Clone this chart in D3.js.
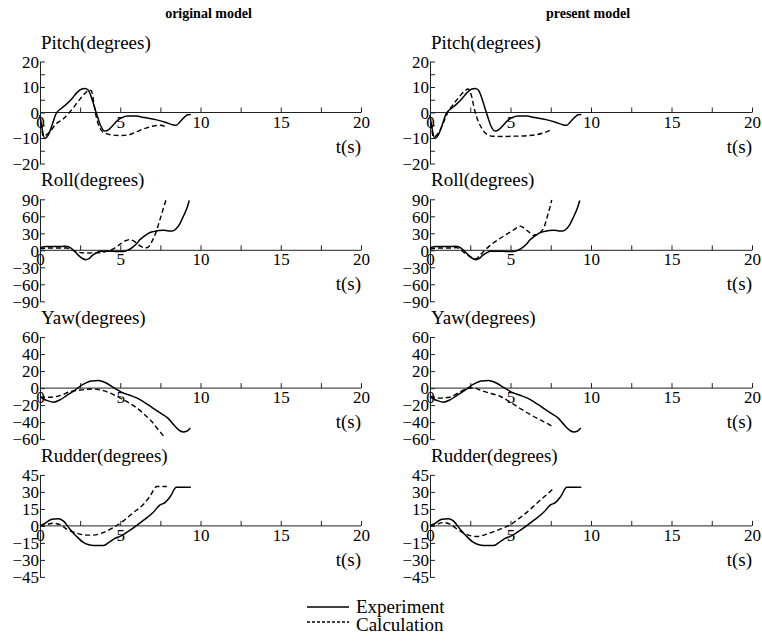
<!DOCTYPE html>
<html>
<head>
<meta charset="utf-8">
<script src="https://cdn.jsdelivr.net/npm/d3@7"></script>
<style>
  body { margin: 0; background: #fff; }
  svg { display: block; font-family: "Liberation Serif", "Times New Roman", serif; }
</style>
</head>
<body>
<svg class="chart" width="762" height="643"></svg>
<script>
// column titles and panel names
const columns = ["original model", "present model"];
const quantities = ["Pitch", "Roll", "Yaw", "Rudder"];
const yMax = [20, 90, 60, 45];
const yTickStep = [5, 30, 20, 15];
const yLabelStep = [10, 30, 20, 15];
const xTicks = [0, 2.5, 5, 7.5, 10, 12.5, 15, 17.5, 20];
const xLabels = [0, 5, 10, 15, 20];

// experiment (same run in both columns), [t, value]
const pitchExp = [[0,-1],[0.12,-6],[0.3,-10.2],[0.5,-9],[0.75,-5],[1.0,-0.5],[1.3,1.5],[1.6,3],[2.0,5.5],[2.3,7.8],[2.6,9.2],[2.8,9.4],[3.0,8.8],[3.2,6],[3.4,2],[3.6,-2],[3.8,-5.5],[4.05,-7.3],[4.3,-6.6],[4.55,-5],[4.8,-3.3],[5.1,-2],[5.5,-1.4],[6.0,-1.4],[6.5,-2],[7.2,-2.8],[7.8,-3.8],[8.3,-4.9],[8.5,-5],[8.7,-3.8],[9.0,-1.8],[9.2,-0.9],[9.4,-0.8]];
const rollExp = [[0,4.5],[0.4,6.8],[1.0,6.5],[1.6,7],[1.95,3.5],[2.2,-3],[2.4,-8.9],[2.65,-14.5],[2.85,-16.6],[3.05,-14.8],[3.25,-9.5],[3.45,-5.5],[3.75,-1.8],[4.35,-1.5],[4.8,-2.2],[5.2,-2],[5.5,0.5],[5.8,6],[6.0,11],[6.2,18],[6.45,24],[6.75,30],[7.06,33],[7.4,35],[7.7,35.5],[8.0,34.2],[8.25,34],[8.5,38.5],[8.7,46],[8.85,55],[9.0,64],[9.15,74],[9.3,88]];
const yawExp = [[0,-10],[0.2,-12.5],[0.42,-14.5],[0.83,-16.5],[1.25,-13.8],[1.66,-8.8],[2.18,-2.3],[2.7,4.6],[3.2,8.4],[3.63,8.8],[4.15,5.7],[4.57,0.8],[5.1,-5],[5.7,-9.2],[6.23,-13.5],[6.75,-19.8],[7.27,-26.5],[7.58,-30.2],[7.95,-35],[8.35,-43.5],[8.72,-50.2],[8.93,-51.6],[9.14,-50.8],[9.37,-47]];
const rudderExp = [[0,0],[0.31,2.3],[0.73,5.8],[1.14,6.4],[1.45,4.4],[1.87,-2.9],[2.28,-9.3],[2.7,-14.5],[3.1,-16.8],[3.53,-17.4],[3.95,-17.4],[4.36,-13.9],[4.67,-11],[4.98,-9.3],[5.4,-5.8],[5.8,-2],[6.44,4.8],[7.06,12],[7.48,18.5],[7.79,20.5],[8.1,25.5],[8.5,34],[9.4,34]];

// calculation, original model
const pitchCalcOrig = [[0,-1],[0.1,-6],[0.2,-9.3],[0.35,-9],[0.6,-7.6],[1.0,-4.5],[1.45,-2.5],[1.9,0.5],[2.4,4.5],[2.8,7.5],[3.1,8.8],[3.2,8.5],[3.35,4],[3.45,0],[3.6,-4],[3.8,-6.8],[4.1,-8.2],[4.5,-8.8],[5.0,-9],[5.5,-8.8],[6.0,-7.6],[6.5,-6.3],[7.0,-5.4],[7.5,-5],[7.9,-5.8]];
const rollCalcOrig = [[0,3],[0.6,4],[1.66,4],[1.9,2],[2.2,-1.8],[2.6,-4.2],[2.9,-4.7],[3.4,-4.5],[3.75,-4],[4.1,-2],[4.4,0.5],[4.65,4],[4.9,9],[5.1,13],[5.3,16.6],[5.6,19],[5.8,17],[5.95,14.5],[6.15,9.5],[6.35,5.9],[6.5,4.5],[6.7,5],[6.85,9],[6.96,14.8],[7.1,23],[7.27,35.5],[7.45,52],[7.6,66],[7.75,80],[7.85,88.8]];
const yawCalcOrig = [[0,-10.7],[0.62,-10.7],[1.25,-8.8],[1.87,-4.2],[2.5,-2.3],[3.32,-1.1],[3.95,-3],[4.57,-7.6],[5.2,-13.8],[5.8,-20.3],[6.44,-29.8],[6.96,-39.4],[7.37,-48.9],[7.79,-58.5]];
const rudderCalcOrig = [[0,0],[0.42,1.2],[0.83,2.3],[1.25,1.2],[1.66,-2.9],[2.28,-6.4],[2.9,-8.1],[3.32,-8.1],[3.95,-5.8],[4.57,-1.5],[5.2,4.4],[5.8,11.6],[6.44,18.9],[6.85,26.1],[7.27,34.8],[7.9,34.8]];

// calculation, present model
const pitchCalcNew = [[0,-1],[0.1,-6],[0.2,-9.6],[0.4,-9],[0.62,-7],[0.9,-3],[1.14,0.5],[1.4,2.8],[1.66,4.9],[1.9,6.8],[2.18,8.6],[2.38,9.2],[2.5,8],[2.6,6],[2.7,3],[2.8,0.3],[3.0,-3.5],[3.2,-6],[3.5,-8.4],[3.9,-9.3],[4.5,-9.4],[5.2,-9.3],[6.0,-9.1],[6.5,-8.8],[7.05,-8],[7.45,-7]];
const rollCalcNew = [[0,2.4],[0.6,4],[1.2,4],[1.66,4.7],[1.85,2],[2.07,-3],[2.35,-8.5],[2.6,-13],[2.85,-15.2],[3.1,-9],[3.4,0],[3.8,10],[4.3,20],[4.8,29],[5.2,36],[5.6,42.6],[5.8,40],[6.0,35.5],[6.2,31],[6.42,26.6],[6.6,27.5],[6.74,29],[6.9,33],[7.05,38.5],[7.15,46],[7.25,56],[7.36,67],[7.46,77],[7.56,88.8]];
const yawCalcNew = [[0,-9.6],[0.62,-11.8],[1.24,-10.7],[1.87,-4.2],[2.38,-0.4],[2.7,0.4],[3.1,-2.3],[3.73,-6.1],[4.35,-9.6],[4.97,-16.4],[5.6,-24],[6.22,-31],[6.84,-37.4],[7.25,-41.3],[7.6,-45.1]];
const rudderCalcNew = [[0,0],[0.41,1.5],[0.83,2.9],[1.24,1.5],[1.76,-3.5],[2.38,-8.1],[2.9,-9.3],[3.52,-7.3],[4.35,-2.9],[4.97,0.9],[5.6,7.3],[6.22,14.5],[6.84,22.6],[7.36,29],[7.63,32.5]];

const expData = [pitchExp, rollExp, yawExp, rudderExp];
const calcData = [
  [pitchCalcOrig, rollCalcOrig, yawCalcOrig, rudderCalcOrig],
  [pitchCalcNew, rollCalcNew, yawCalcNew, rudderCalcNew]
];

const svg = d3.select('.chart');
const colX = [[40, 361], [430, 752]];
const rowTop = 61.5, rowStep = 137.8, rowH = 102;

columns.forEach(function(title, c) {
  svg.append('text')
    .attr('x', (colX[c][0] + colX[c][1]) / 2 + (c ? -3 : 8))
    .attr('y', 18)
    .attr('text-anchor', 'middle')
    .style('font-weight', 'bold')
    .style('font-size', '14px')
    .text(title);

  quantities.forEach(function(q, r) {
    let top = rowTop + r * rowStep;
    let x = d3.scaleLinear().domain([0, 20]).range(colX[c]);
    let y = d3.scaleLinear().domain([-yMax[r], yMax[r]]).range([top + rowH, top]);
    let g = svg.append('g');

    let yt = d3.range(-yMax[r], yMax[r] + 0.01, yTickStep[r]);
    let ya = g.append('g')
      .attr('transform', 'translate(' + colX[c][0] + ',0)')
      .call(d3.axisLeft(y).tickValues(yt).tickSizeInner(-5).tickSizeOuter(0).tickPadding(1)
        .tickFormat(function(d) { return (Math.round(d) % yLabelStep[r] === 0) ? d3.format('d')(d) : ''; }));

    let xa = g.append('g')
      .attr('transform', 'translate(0,' + y(0) + ')')
      .call(d3.axisBottom(x).tickValues(xTicks).tickSizeInner(-5).tickSizeOuter(0).tickPadding(3)
        .tickFormat(function(d) { return xLabels.indexOf(d) >= 0 ? d : ''; }));

    [ya, xa].forEach(function(a) {
      a.selectAll('path, line').attr('stroke', '#222');
      a.selectAll('text').style('font-size', '17px').style('font-family', '"Liberation Serif", serif').attr('fill', '#000');
    });
    ya.selectAll('text').attr('dy', '0.34em');
    xa.select('.domain').attr('d', 'M' + colX[c][0] + ',0H' + colX[c][1]);

    g.append('text')
      .attr('x', colX[c][0] + 1)
      .attr('y', top - 13)
      .style('font-size', '19px')
      .text(q + '(degrees)');

    g.append('text')
      .attr('x', colX[c][1])
      .attr('y', y(0) + 40)
      .attr('text-anchor', 'end')
      .style('font-size', '19px')
      .text('t(s)');

    let line = d3.line()
      .x(function(d) { return x(d[0]); })
      .y(function(d) { return y(d[1]); })
      .curve(d3.curveMonotoneX);

    g.append('path').datum(expData[r])
      .attr('d', line).attr('fill', 'none').attr('stroke', '#000').attr('stroke-width', 1.5);
    g.append('path').datum(calcData[c][r])
      .attr('d', line).attr('fill', 'none').attr('stroke', '#000').attr('stroke-width', 1.4)
      .attr('stroke-dasharray', '5,3');
  });
});

// legend
const legendItems = [['Experiment', null], ['Calculation', '3,2']];
legendItems.forEach(function(d, i) {
  let ly = 607 + i * 15;
  svg.append('line').attr('x1', 307).attr('x2', 349).attr('y1', ly).attr('y2', ly)
    .attr('stroke', '#000').attr('stroke-width', 1.3).attr('stroke-dasharray', d[1]);
  svg.append('text').attr('x', 356).attr('y', ly + 6 + i * 3).style('font-size', '19px').text(d[0]);
});
</script>
</body>
</html>
